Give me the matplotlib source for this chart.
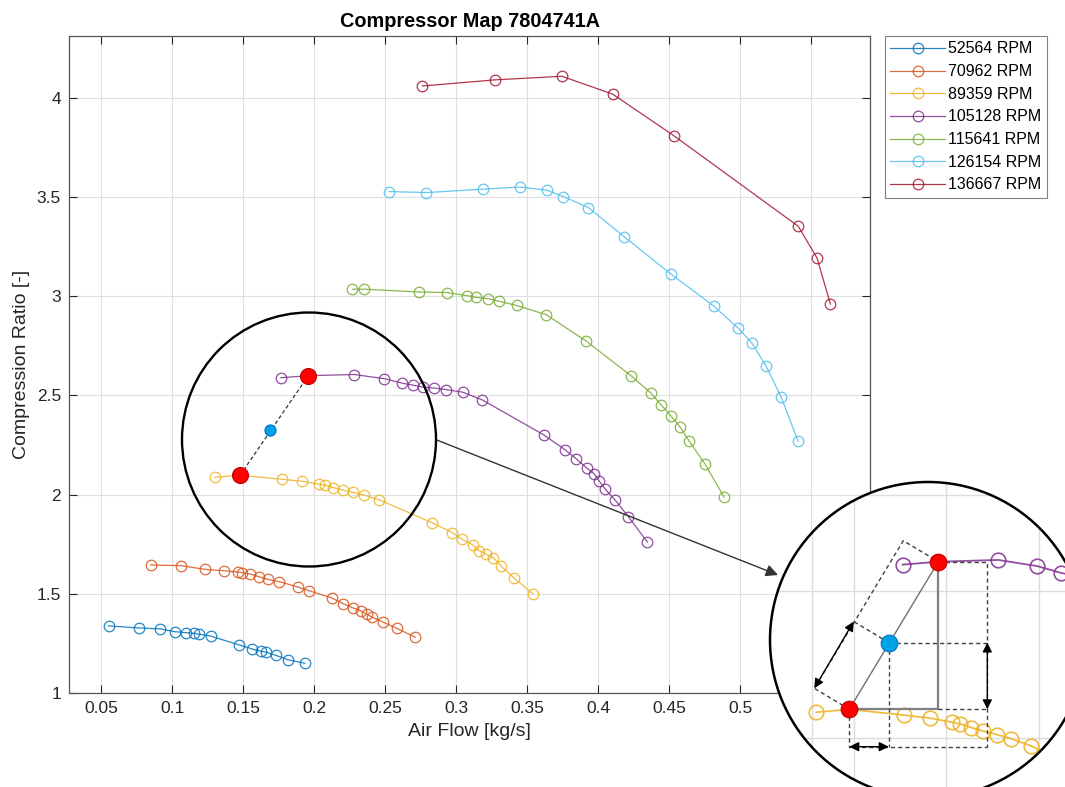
import numpy as np
import matplotlib
matplotlib.use('Agg')
import matplotlib.pyplot as plt
from matplotlib.patches import Circle, Ellipse
from matplotlib.ticker import FuncFormatter, FixedLocator

plt.rcParams['font.family'] = ['Liberation Sans', 'DejaVu Sans']

# ---------------- data ----------------
speeds = [52564, 70962, 89359, 105128, 115641, 126154, 136667]

flow_52564 = [0.0552, 0.0763, 0.0915, 0.1019, 0.1094, 0.1153, 0.1190, 0.1270, 0.1472, 0.1563,
              0.1625, 0.1660, 0.1732, 0.1817, 0.1932]
pr_52564 = [1.338, 1.328, 1.323, 1.309, 1.304, 1.301, 1.296, 1.287, 1.242, 1.222,
            1.210, 1.206, 1.189, 1.167, 1.150]

flow_70962 = [0.0848, 0.1059, 0.1232, 0.1362, 0.1461, 0.1491, 0.1547, 0.1611, 0.1672, 0.1754,
              0.1885, 0.1961, 0.2123, 0.2204, 0.2275, 0.2329, 0.2369, 0.2404, 0.2482, 0.2580, 0.2711]
pr_70962 = [1.645, 1.642, 1.623, 1.616, 1.610, 1.606, 1.600, 1.586, 1.573, 1.561,
            1.534, 1.516, 1.479, 1.450, 1.428, 1.413, 1.398, 1.383, 1.358, 1.326, 1.281]

flow_89359 = [0.1299, 0.1477, 0.1775, 0.1913, 0.2033, 0.2077, 0.2135, 0.2200, 0.2275, 0.2351,
              0.2458, 0.2831, 0.2972, 0.3040, 0.3115, 0.3162, 0.3209, 0.3261, 0.3315, 0.3406, 0.3540]
pr_89359 = [2.087, 2.097, 2.077, 2.067, 2.053, 2.047, 2.035, 2.023, 2.011, 1.997,
            1.973, 1.858, 1.808, 1.775, 1.747, 1.717, 1.699, 1.682, 1.640, 1.580, 1.499]

flow_105128 = [0.1765, 0.1958, 0.2282, 0.2493, 0.2621, 0.2697, 0.2762, 0.2841, 0.2927, 0.3045,
               0.3183, 0.3618, 0.3765, 0.3843, 0.3918, 0.3972, 0.4007, 0.4049, 0.4120, 0.4211, 0.4345]
pr_105128 = [2.589, 2.599, 2.605, 2.584, 2.561, 2.551, 2.542, 2.537, 2.529, 2.516,
             2.477, 2.300, 2.226, 2.181, 2.134, 2.104, 2.067, 2.027, 1.971, 1.889, 1.761]

flow_115641 = [0.2268, 0.2352, 0.2735, 0.2935, 0.3072, 0.3141, 0.3225, 0.3303, 0.3425, 0.3635,
               0.3913, 0.4232, 0.4371, 0.4442, 0.4512, 0.4575, 0.4639, 0.4751, 0.4885]
pr_115641 = [3.035, 3.035, 3.021, 3.018, 3.003, 2.994, 2.987, 2.974, 2.953, 2.906,
             2.774, 2.598, 2.511, 2.452, 2.396, 2.341, 2.270, 2.154, 1.988]

flow_126154 = [0.2528, 0.2789, 0.3186, 0.3446, 0.3637, 0.3754, 0.3930, 0.4181, 0.4510, 0.4813,
               0.4984, 0.5082, 0.5181, 0.5287, 0.5406]
pr_126154 = [3.527, 3.522, 3.539, 3.550, 3.534, 3.502, 3.446, 3.300, 3.112, 2.950,
             2.839, 2.763, 2.647, 2.492, 2.270]

flow_136667 = [0.2761, 0.3273, 0.3744, 0.4101, 0.4531, 0.5408, 0.5540, 0.5634]
pr_136667 = [4.059, 4.090, 4.108, 4.018, 3.809, 3.352, 3.192, 2.960]

# highlighted operating points (red: on speed lines, blue: interpolated point)
red_flow = [0.1477, 0.1958]
red_pr = [2.097, 2.599]
blue_flow = [0.169]
blue_pr = [2.324]

x_ticks = [0.05, 0.1, 0.15, 0.2, 0.25, 0.3, 0.35, 0.4, 0.45, 0.5, 0.55]
y_ticks = [1, 1.5, 2, 2.5, 3, 3.5, 4]

flows = [flow_52564, flow_70962, flow_89359, flow_105128, flow_115641, flow_126154, flow_136667]
prs = [pr_52564, pr_70962, pr_89359, pr_105128, pr_115641, pr_126154, pr_136667]
colors = ['#0072BD', '#D95319', '#EDB120', '#7E2F8E', '#77AC30', '#4DBEEE', '#A2142F']

# ---------------- figure ----------------
W, H = 1065, 787
fig = plt.figure(figsize=(W / 100, H / 100), dpi=100)
ax = fig.add_axes([69.3 / W, (H - 693) / H, (870.3 - 69.3) / W, (693 - 35.7) / H])

for f, p, c, s in zip(flows, prs, colors, speeds):
    ax.plot(f, p, '-o', color=c, mfc='none', mec=c, ms=7.6, mew=0.9, lw=0.9,
            alpha=0.85, label=f'{s} RPM')

ax.plot(red_flow, red_pr, color='#333333', lw=0.9, dashes=(3, 2), zorder=4)
ax.plot(red_flow, red_pr, 'o', ls='none', ms=11.5, mfc='#ff0000', mec='#c00000', mew=0.8, zorder=5)
ax.plot(blue_flow, blue_pr, 'o', ls='none', ms=8, mfc='#00a2e8', mec='#0070c0', mew=0.8, zorder=5)

ax.set_xlim(0.0275, 0.5915)
ax.set_ylim(1, 4.3125)
ax.xaxis.set_major_locator(FixedLocator(x_ticks))
ax.yaxis.set_major_locator(FixedLocator(y_ticks))
fmt = FuncFormatter(lambda v, pos: f'{v:g}')
ax.xaxis.set_major_formatter(fmt)
ax.yaxis.set_major_formatter(fmt)
ax.grid(True, color='#dfdfdf', lw=0.8)
ax.set_axisbelow(True)
ax.tick_params(direction='in', top=True, right=True, length=6, width=0.8,
               labelsize=12.5, colors='#262626', pad=6)
for sp in ax.spines.values():
    sp.set_color('#555555')
    sp.set_linewidth(0.9)

ax.set_xlabel('Air Flow [kg/s]', fontsize=14, color='#262626', labelpad=5)
ax.set_ylabel('Compression Ratio [-]', fontsize=14, color='#262626', labelpad=5)
ax.set_title('Compressor Map 7804741A', fontsize=14.3, fontweight='bold', pad=6)

leg = ax.legend(loc='upper left', bbox_to_anchor=(884.7 / W, (H - 35.7) / H),
                bbox_transform=fig.transFigure, borderaxespad=0, fancybox=False,
                edgecolor='#808080', framealpha=1, fontsize=11.5, handlelength=3.4,
                handletextpad=0.2, labelspacing=0.48, borderpad=0.36)
leg.get_frame().set_linewidth(0.8)

# big circle around the highlighted region (figure pixel geometry)
big_cx, big_cy, big_r = 309, 439.5, 127
fig.add_artist(Ellipse((big_cx / W, (H - big_cy) / H), 2 * big_r / W, 2 * big_r / H,
                       transform=fig.transFigure, fill=False, ec='black', lw=1.7, zorder=6))

# connector arrow to the magnified view
ax.annotate('', xy=(778, H - 575), xycoords='figure pixels',
            xytext=(436.7, H - 440), textcoords='figure pixels',
            arrowprops=dict(arrowstyle='-|>', color='#333333', lw=1.0, mutation_scale=18,
                            shrinkA=0, shrinkB=0),
            annotation_clip=False, zorder=7)

# ---------------- magnified circular view ----------------
cx, cy, r = 928, 640, 158          # circle in image pixels
sx, sy = 1850.0, 294.0             # magnification (px per data unit)
ax_px, ay_px = 849.3, 709.3        # image pixel of the lower red point
ax_in = fig.add_axes([(cx - r) / W, (H - (cy + r)) / H, 2 * r / W, 2 * r / H], zorder=10)
ax_in.set_axis_off()
xL, yL = red_flow[0], red_pr[0]
ax_in.set_xlim(xL - (ax_px - (cx - r)) / sx, xL + ((cx + r) - ax_px) / sx)
ax_in.set_ylim(yL - ((cy + r) - ay_px) / sy, yL + (ay_px - (cy - r)) / sy)

disk = Circle((0.5, 0.5), 0.5, transform=ax_in.transAxes, fc='white', ec='none', zorder=0)
ax_in.add_patch(disk)

def clip(artists):
    for a in artists:
        a.set_clip_path(disk)

# grid lines of the magnified view
for xv in [xL + (811.7 - ax_px) / sx, 0.15, 0.2, 0.25]:
    clip([ax_in.axvline(xv, color='#dcdcdc', lw=1.0, zorder=1)])
for yv in [yL + (ay_px - 495) / sy, 2.0, 2.5]:
    clip([ax_in.axhline(yv, color='#dcdcdc', lw=1.0, zorder=1)])

for f, p, c in zip(flows, prs, colors):
    clip(ax_in.plot(f, p, '-o', color=c, mfc='none', mec=c, ms=10.5, mew=1.2, lw=1.3,
                    alpha=0.85, zorder=3))

xU, yU = red_flow[1], red_pr[1]
xB, yB = blue_flow[0], blue_pr[0]
xr = xL + (987.3 - ax_px) / sx     # right construction line
yb = yL - (746.7 - ay_px) / sy     # bottom construction line
ox, oy = -35 / sx, 21 / sy         # perpendicular offset

dash_kw = dict(color='#404040', lw=1.0, dashes=(3, 2.2), zorder=4)
ax_in.plot([xL, xU], [yL, yU], color='#707070', lw=1.0, zorder=4)
ax_in.plot([xL, xU, xU], [yL, yL, yU], color='#808080', lw=1.6, zorder=4)
ax_in.plot([xU, xr, xr], [yU, yU, yb], **dash_kw)
ax_in.plot([xB, xr], [yB, yB], **dash_kw)
ax_in.plot([xU, xr], [yL, yL], **dash_kw)
ax_in.plot([xB, xB], [yB, yb], **dash_kw)
ax_in.plot([xL, xL, xr], [yL, yb, yb], **dash_kw)
ax_in.plot([xL, xL + ox, xU + ox, xU], [yL, yL + oy, yU + oy, yU], **dash_kw)
ax_in.plot([xB, xB + ox], [yB, yB + oy], **dash_kw)

arr_kw = dict(arrowstyle='<|-|>', color='black', lw=1.0, mutation_scale=14, shrinkA=0, shrinkB=0)
ax_in.annotate('', xy=(xr, yB), xytext=(xr, yL), arrowprops=arr_kw, zorder=6)
ax_in.annotate('', xy=(xL, yb), xytext=(xB, yb), arrowprops=arr_kw, zorder=6)
ax_in.annotate('', xy=(xL + ox, yL + oy), xytext=(xB + ox, yB + oy), arrowprops=arr_kw, zorder=6)

ax_in.plot(red_flow, red_pr, 'o', ls='none', ms=12, mfc='#ff0000', mec='#c00000', mew=0.8, zorder=7)
ax_in.plot(blue_flow, blue_pr, 'o', ls='none', ms=12, mfc='#00a2e8', mec='#0070c0', mew=0.8, zorder=7)

ax_in.add_patch(Circle((0.5, 0.5), 0.5, transform=ax_in.transAxes, fill=False, ec='black',
                       lw=1.8, zorder=20, clip_on=False))

fig.savefig('out.png', dpi=100)
